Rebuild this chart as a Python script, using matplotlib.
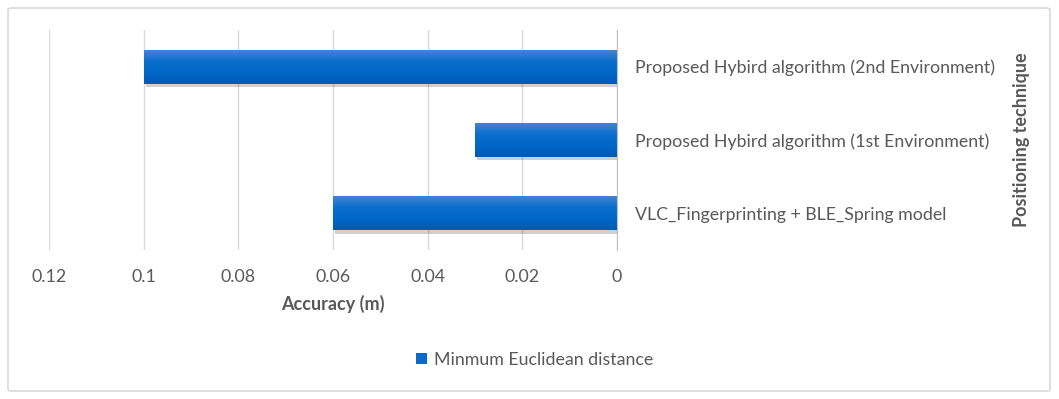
import matplotlib
matplotlib.use("Agg")
import numpy as np
import matplotlib.pyplot as plt
import matplotlib.patheffects as pe
from matplotlib.patches import FancyBboxPatch, Patch
from matplotlib.colors import LinearSegmentedColormap

# dados do gráfico
tecnicas = [
    "VLC_Fingerprinting + BLE_Spring model",
    "Proposed Hybird algorithm (1st Environment)",
    "Proposed Hybird algorithm (2nd Environment)",
]
distancias = [0.06, 0.03, 0.1]
ticks_x = [0.12, 0.1, 0.08, 0.06, 0.04, 0.02, 0]
rotulos_x = ["0.12", "0.1", "0.08", "0.06", "0.04", "0.02", "0"]
serie = "Minmum Euclidean distance"

plt.rcParams['font.family'] = ['Lato', 'DejaVu Sans']
cinza = '#595959'
azul = '#0A6AC8'

fig = plt.figure(figsize=(10.59, 3.99), dpi=100)
ax = fig.add_axes([49 / 1059, 1 - 250 / 399, 568 / 1059, 220 / 399])

# borda externa do gráfico
borda = FancyBboxPatch((8 / 1059, 8 / 399), 1042 / 1059, 383 / 399,
                       boxstyle="round,pad=0,rounding_size=0.004",
                       transform=fig.transFigure, fill=False,
                       edgecolor='#d9d9d9', linewidth=1.2)
fig.patches.append(borda)

barras = ax.barh(range(len(tecnicas)), distancias, height=0.46,
                 color=azul, zorder=3)

# degradê vertical dentro de cada barra + sombra leve
grad = LinearSegmentedColormap.from_list(
    'g', ['#005AB4', '#0068C8', '#0A6FCC', '#4184D2'])
for b in barras:
    b.set_path_effects([pe.SimplePatchShadow(offset=(1.5, -2.5), alpha=0.25,
                                             shadow_rgbFace='#444444'),
                        pe.Normal()])
    x0, y0 = b.get_x(), b.get_y()
    w, h = b.get_width(), b.get_height()
    img = ax.imshow(np.linspace(0, 1, 50).reshape(-1, 1), cmap=grad,
                    aspect='auto', origin='lower',
                    extent=(x0, x0 + w, y0, y0 + h), zorder=4)
    img.set_clip_path(b)

ax.set_xlim(0.12, 0)
ax.set_ylim(-0.5, 2.5)
ax.set_xticks(ticks_x)
ax.set_xticklabels(rotulos_x)
ax.set_yticks(range(len(tecnicas)))
ax.set_yticklabels(tecnicas)
ax.yaxis.tick_right()
ax.yaxis.set_label_position('right')

ax.grid(axis='x', color='#d9d9d9', linewidth=1, zorder=0)
for lado in ['top', 'bottom', 'left']:
    ax.spines[lado].set_visible(False)
ax.spines['right'].set_color('#bfbfbf')
ax.spines['right'].set_zorder(5)

ax.tick_params(axis='both', length=0, colors=cinza, labelsize=12.8)
ax.tick_params(axis='x', pad=14)
ax.tick_params(axis='y', pad=13)

ax.set_xlabel("Accuracy (m)", fontsize=13, fontweight='bold', color=cinza,
              labelpad=7)
ax.set_ylabel("Positioning technique", fontsize=13, fontweight='bold',
              color=cinza)
ax.yaxis.set_label_coords((1013 - 49) / 568, 0.5)

fig.legend(handles=[Patch(facecolor=azul)], labels=[serie],
           loc='center', bbox_to_anchor=(535 / 1059, 1 - 360 / 399),
           frameon=False, fontsize=12.8, labelcolor=cinza,
           handlelength=0.6, handleheight=0.6, handletextpad=0.4)

fig.savefig("out.png", dpi=100)
